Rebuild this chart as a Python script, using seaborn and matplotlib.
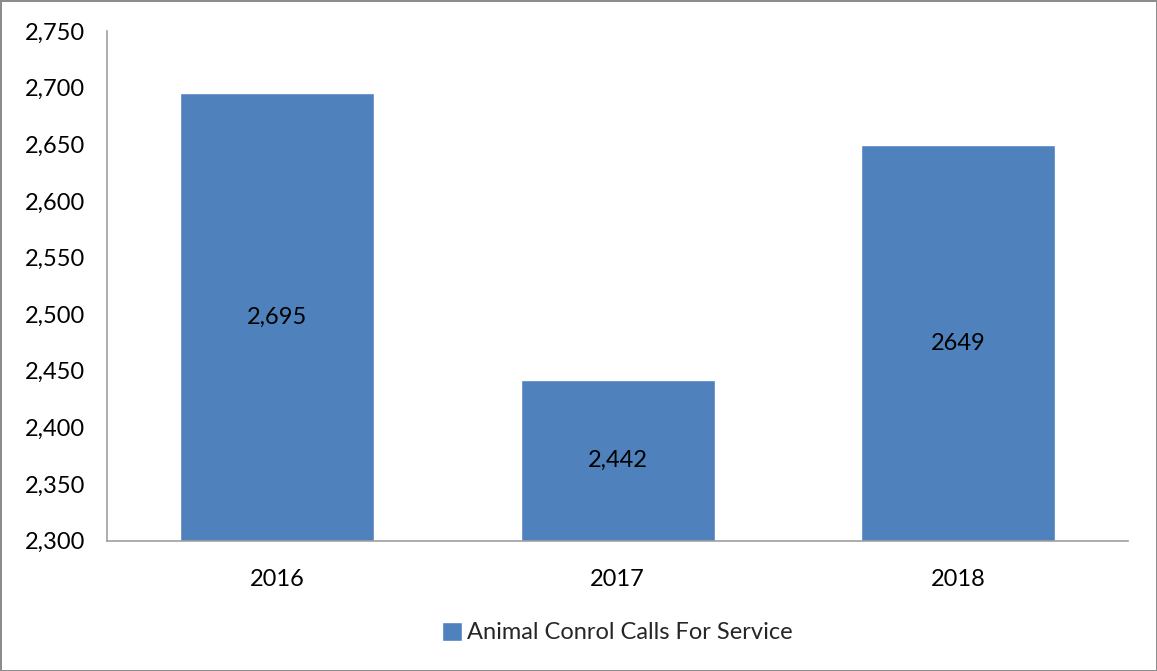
import pandas as pd
import seaborn as sns
import matplotlib.pyplot as plt
from matplotlib.ticker import FuncFormatter

years = ["2016", "2017", "2018"]
calls = [2695, 2442, 2649]
bar_labels = ["2,695", "2,442", "2649"]
series_name = "Animal Conrol Calls For Service"

data = pd.DataFrame({"year": years, "calls": calls, "series": series_name})

sns.set_style("white")
plt.rcParams["font.family"] = ["Lato", "DejaVu Sans"]

fig = plt.figure(figsize=(11.57, 6.71), dpi=100, edgecolor="#8c8c8c", linewidth=2)
ax = fig.add_axes([0.0925, 0.194, 0.8825, 0.76])

sns.barplot(data=data, x="year", y="calls", hue="series", palette=["#4f81bd"],
            width=0.57, saturation=1, ax=ax, legend=True)

ax.set_ylim(2300, 2750)
ax.set_yticks(range(2300, 2751, 50))
ax.yaxis.set_major_formatter(FuncFormatter(lambda v, p: f"{int(v):,}"))
ax.tick_params(axis="both", length=0, labelsize=17, colors="black")
ax.tick_params(axis="y", pad=16)
ax.tick_params(axis="x", pad=20)
ax.set_xlabel("")
ax.set_ylabel("")

for s in ["top", "right"]:
    ax.spines[s].set_visible(False)
for s in ["left", "bottom"]:
    ax.spines[s].set_color("#a0a0a0")
    ax.spines[s].set_linewidth(1.2)

for i, (v, lab) in enumerate(zip(calls, bar_labels)):
    ax.text(i, (v + 2300) / 2, lab, ha="center", va="center", fontsize=17, color="black")

ax.legend(loc="center", bbox_to_anchor=(0.5, -0.18), frameon=False, fontsize=17,
          handlelength=0.85, handleheight=0.85, handletextpad=0.2)

fig.savefig("out.png", dpi=100, edgecolor=fig.get_edgecolor())
